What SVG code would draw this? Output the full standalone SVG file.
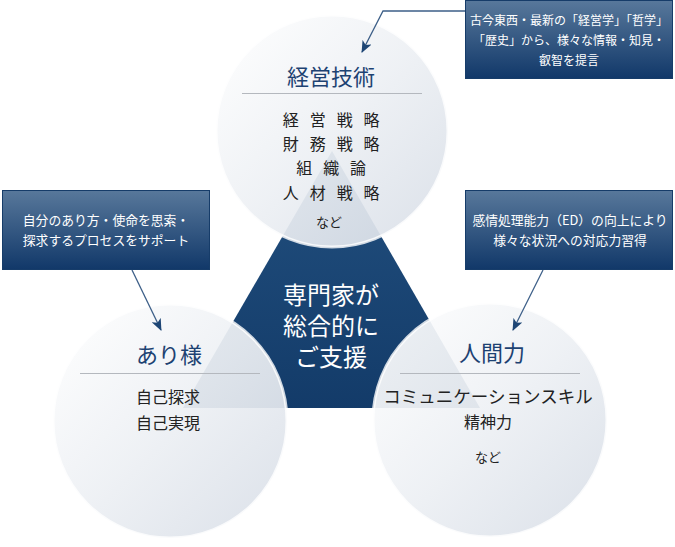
<svg xmlns="http://www.w3.org/2000/svg" width="675" height="547" viewBox="0 0 675 547">
<defs>
<linearGradient id="gCircle" x1="0" y1="0" x2="1" y2="1">
<stop offset="0" stop-color="#ffffff"/>
<stop offset="0.5" stop-color="#edf0f4"/>
<stop offset="1" stop-color="#d8dee7"/>
</linearGradient>
<linearGradient id="gTri" x1="0" y1="0" x2="0" y2="1">
<stop offset="0" stop-color="#22507f"/>
<stop offset="1" stop-color="#133b69"/>
</linearGradient>
<linearGradient id="gBox" x1="0" y1="0" x2="0" y2="1">
<stop offset="0" stop-color="#58789b"/>
<stop offset="1" stop-color="#113869"/>
</linearGradient>
<marker id="arrow" viewBox="0 0 12 10" refX="11" refY="5" markerWidth="12" markerHeight="10" markerUnits="userSpaceOnUse" orient="auto">
<path d="M0,0 L12,5 L0,10 L3,5 z" fill="#1e4675"/>
</marker>
<style>
.circle { fill: url(#gCircle); fill-opacity: 0.93; stroke: #ffffff; stroke-width: 3; stroke-opacity: 0.8; }
.title { font-family: "Noto Sans CJK JP", sans-serif; font-size: 22px; fill: #1d4272; text-anchor: middle; }
.body { font-family: "Noto Sans CJK JP", sans-serif; font-size: 16px; fill: #222222; text-anchor: middle; }
.spaced { letter-spacing: 3.7px; }
.small { font-family: "Noto Sans CJK JP", sans-serif; font-size: 13px; fill: #222222; text-anchor: middle; }
.divider { stroke: #b4b8be; stroke-width: 1; }
.center { font-family: "Noto Sans CJK JP", sans-serif; font-size: 24px; fill: #ffffff; text-anchor: middle; }
.box { fill: url(#gBox); stroke: #163c69; stroke-width: 1; }
.boxtext { font-family: "Noto Sans CJK JP", sans-serif; font-size: 12px; fill: #ffffff; text-anchor: middle; }
.conn { fill: none; stroke: #3d5f88; stroke-width: 1.3; marker-end: url(#arrow); }
</style>
</defs>
<rect width="675" height="547" fill="#ffffff"/>

<g id="center-node">
<polygon points="332,151 183,408 480,408" fill="url(#gTri)"/>
</g>

<g id="node-keiei">
<circle class="circle" cx="332" cy="131" r="116"/>
<text class="title" x="331" y="85">経営技術</text>
<line class="divider" x1="242" y1="93.5" x2="422" y2="93.5"/>
<text class="body spaced" x="333" y="126">経 営 戦 略</text>
<text class="body spaced" x="333" y="150">財 務 戦 略</text>
<text class="body spaced" x="333" y="174">組 織 論</text>
<text class="body spaced" x="333" y="199">人 材 戦 略</text>
<text class="small" x="329" y="227">など</text>
</g>

<g id="node-arisama">
<circle class="circle" cx="170" cy="421" r="117"/>
<text class="title" x="169" y="363">あり様</text>
<line class="divider" x1="80" y1="373.5" x2="260" y2="373.5"/>
<text class="body" x="168" y="403">自己探求</text>
<text class="body" x="168" y="429">自己実現</text>
</g>

<g id="node-ningenryoku">
<circle class="circle" cx="490" cy="420" r="117"/>
<text class="title" x="492" y="361">人間力</text>
<line class="divider" x1="400" y1="373.5" x2="580" y2="373.5"/>
<text class="body" x="488" y="403" style="font-size:17.5px">コミュニケーションスキル</text>
<text class="body" x="488" y="428">精神力</text>
<text class="small" x="488" y="462">など</text>
</g>

<g id="center-label">
<text class="center" x="331" y="304">専門家が</text>
<text class="center" x="331" y="335">総合的に</text>
<text class="center" x="331" y="366">ご支援</text>
</g>

<g id="connectors">
<path class="conn" d="M465,11 L383,11 L362,52"/>
<path class="conn" d="M132,270 L161,330"/>
<path class="conn" d="M543,270 L513,330"/>
</g>

<g id="callout-top">
<rect class="box" x="465.5" y="0.5" width="207" height="78"/>
<text class="boxtext" x="569" y="25">古今東西・最新の「経営学」「哲学」</text>
<text class="boxtext" x="569" y="45">「歴史」から、様々な情報・知見・</text>
<text class="boxtext" x="569" y="65">叡智を提言</text>
</g>

<g id="callout-left">
<rect class="box" x="2.5" y="190.5" width="207" height="79"/>
<text class="boxtext" x="106" y="225" style="font-size:12.8px">自分のあり方・使命を思索・</text>
<text class="boxtext" x="106" y="245" style="font-size:12.8px">探求するプロセスをサポート</text>
</g>

<g id="callout-right">
<rect class="box" x="465.5" y="190.5" width="207" height="79"/>
<text class="boxtext" x="570" y="225" style="font-size:12.8px">感情処理能力（ED）の向上により</text>
<text class="boxtext" x="570" y="245" style="font-size:12.8px">様々な状況への対応力習得</text>
</g>
</svg>
